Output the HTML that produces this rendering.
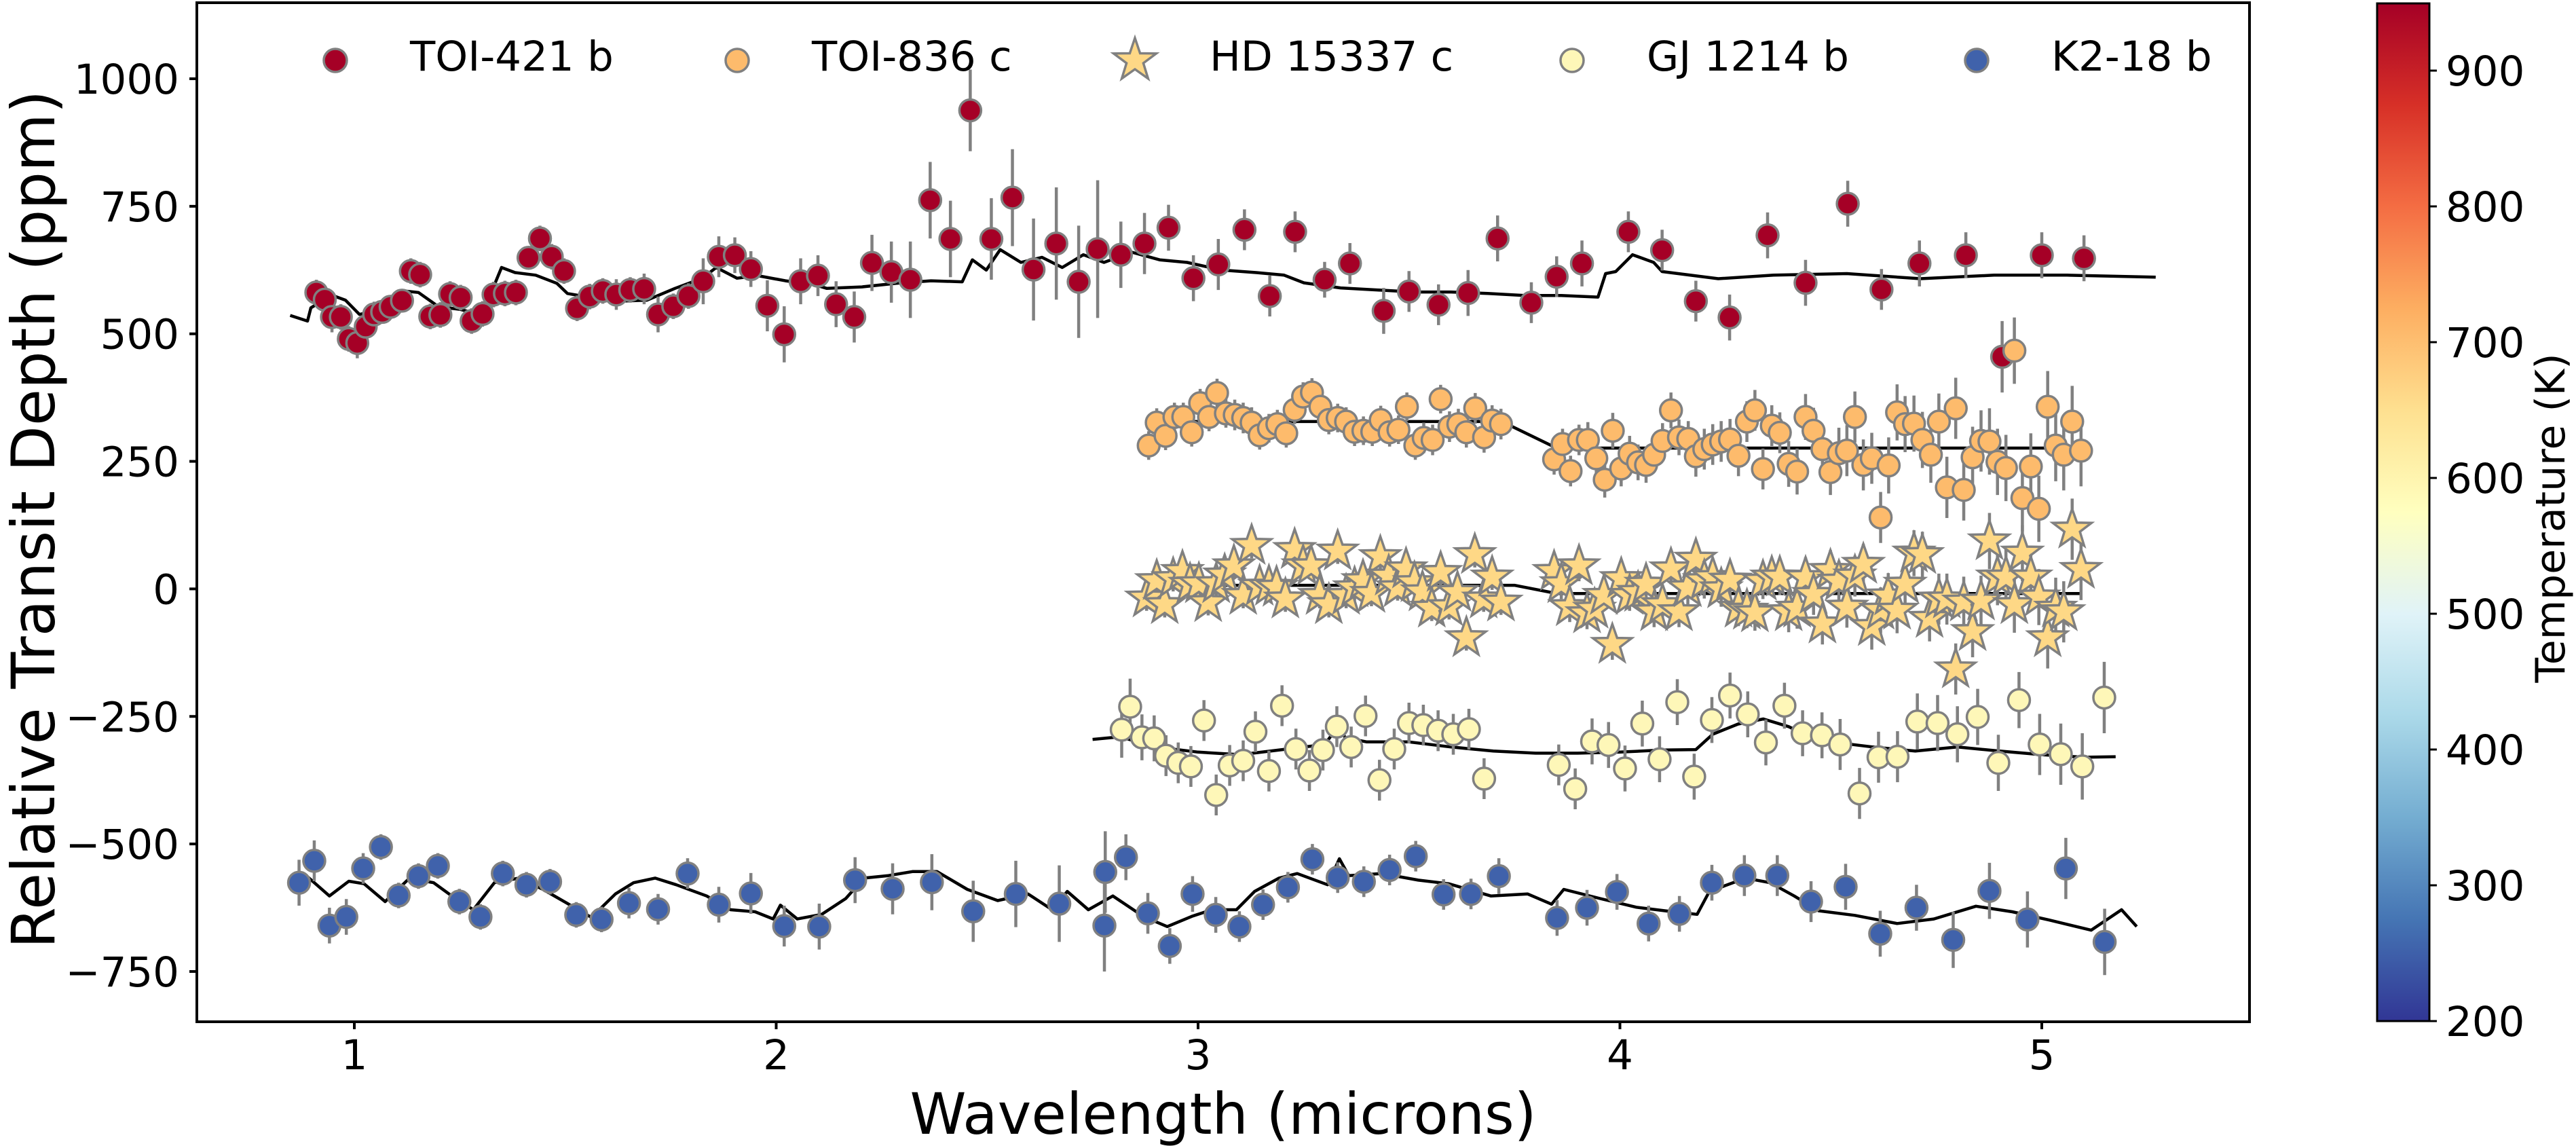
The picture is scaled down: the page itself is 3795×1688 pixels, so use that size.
<!DOCTYPE html>
<html>
<head>
<meta charset="utf-8">
<style>
  html,body{margin:0;padding:0;background:#fff;}
  svg{display:block;font-family:"DejaVu Sans","Liberation Sans",sans-serif;}
</style>
</head>
<body>
<svg id="chart" xmlns="http://www.w3.org/2000/svg" width="3795" height="1688" viewBox="0 0 3795 1688">
  <defs>
    <linearGradient id="cmap" x1="0" y1="1" x2="0" y2="0">
      <stop offset="0" stop-color="#313695"/>
      <stop offset="0.1" stop-color="#4575b4"/>
      <stop offset="0.2" stop-color="#74add1"/>
      <stop offset="0.3" stop-color="#abd9e9"/>
      <stop offset="0.4" stop-color="#e0f3f8"/>
      <stop offset="0.5" stop-color="#ffffbf"/>
      <stop offset="0.6" stop-color="#fee090"/>
      <stop offset="0.7" stop-color="#fdae61"/>
      <stop offset="0.8" stop-color="#f46d43"/>
      <stop offset="0.9" stop-color="#d73027"/>
      <stop offset="1" stop-color="#a50026"/>
    </linearGradient>
  </defs>
  <g id="models"></g>
  <g id="series"></g>
  <rect x="290" y="4" width="3024" height="1501" fill="none" stroke="#000" stroke-width="4"/>
  <g id="yticks"></g>
  <g id="xticks"></g>
  <text x="0" y="0" transform="translate(80,765) rotate(-90)" text-anchor="middle" font-size="88">Relative Transit Depth (ppm)</text>
  <text x="1802" y="1670" text-anchor="middle" font-size="84">Wavelength (microns)</text>
  <g id="legend"></g>
  <rect x="3502" y="5" width="77" height="1499" fill="url(#cmap)" stroke="#000" stroke-width="3"/>
  <g id="cticks"></g>
  <text x="0" y="0" transform="translate(3778,763) rotate(-90)" text-anchor="middle" font-size="60">Temperature (K)</text>
</svg>
<script>
// ---- data ----
const yTicks = [1000, 750, 500, 250, 0, -250, -500, -750];
const yTickLabels = ["1000", "750", "500", "250", "0", "\u2212250", "\u2212500", "\u2212750"];
const xTicks = [1, 2, 3, 4, 5];
const xTickLabels = ["1", "2", "3", "4", "5"];
const cbTicks = [200, 300, 400, 500, 600, 700, 800, 900];
const legendLabels = ["TOI-421 b", "TOI-836 c", "HD 15337 c", "GJ 1214 b", "K2-18 b"];

const toi421Wave = [0.91,0.93,0.947,0.968,0.987,1.007,1.027,1.047,1.066,1.086,1.113,1.134,1.156,1.18,1.204,1.227,1.252,1.278,1.304,1.33,1.357,1.383,1.413,1.44,1.468,1.497,1.528,1.558,1.589,1.621,1.654,1.687,1.72,1.756,1.792,1.827,1.864,1.902,1.94,1.979,2.019,2.058,2.099,2.142,2.185,2.227,2.273,2.318,2.365,2.413,2.46,2.51,2.56,2.61,2.664,2.717,2.762,2.817,2.873,2.93,2.989,3.048,3.11,3.17,3.23,3.30,3.36,3.44,3.50,3.57,3.64,3.71,3.79,3.85,3.91,4.02,4.1,4.18,4.26,4.35,4.44,4.54,4.62,4.71,4.82,4.906,5.0,5.1];
const toi421Depth = [581,567,533,533,490,482,514,538,543,553,565,623,616,534,537,578,571,525,539,577,579,581,649,687,651,623,550,573,584,577,586,588,538,554,574,603,651,654,627,555,499,603,614,558,533,639,621,606,762,686,938,686,767,626,677,602,666,655,677,708,609,636,704,574,700,606,638,545,583,557,580,687,561,612,638,700,664,564,532,693,600,755,587,638,654,455,654,648];
const toi421Err = [25,25,30,25,25,30,25,25,20,20,20,25,25,25,25,25,25,25,25,25,25,25,20,25,25,25,25,25,25,30,25,30,35,25,25,45,40,35,35,50,55,45,40,45,50,55,60,75,75,75,80,80,95,100,110,110,135,65,60,45,45,50,40,40,40,35,40,45,40,40,45,45,40,40,45,40,40,40,45,45,45,45,40,45,45,70,45,45];
const toi421ModelWave = [0.848,0.889,0.897,0.946,0.979,1.012,1.07,1.119,1.152,1.2,1.25,1.283,1.316,1.349,1.381,1.43,1.48,1.505,1.562,1.628,1.694,1.76,1.825,1.858,1.907,1.956,2.022,2.088,2.12,2.203,2.285,2.367,2.441,2.465,2.498,2.531,2.58,2.63,2.678,2.728,2.777,2.843,2.909,2.974,3.056,3.138,3.204,3.251,3.338,3.425,3.513,3.6,3.687,3.774,3.861,3.948,3.966,3.99,4.03,4.08,4.1,4.233,4.364,4.538,4.712,4.887,5.06,5.27];
const toi421ModelDepth = [536,525,551,576,566,538,548,584,581,553,548,541,564,630,620,615,599,579,571,564,566,589,609,630,609,614,604,597,589,592,599,604,602,645,625,665,640,650,630,655,640,660,645,640,625,620,615,600,590,586,582,582,579,575,575,572,618,622,655,640,622,608,615,618,608,615,615,611];

const toi836Wave = [2.883,2.902,2.923,2.944,2.965,2.985,3.005,3.026,3.045,3.066,3.087,3.107,3.127,3.146,3.168,3.188,3.209,3.229,3.249,3.27,3.29,3.31,3.331,3.351,3.371,3.392,3.413,3.433,3.454,3.475,3.495,3.515,3.535,3.556,3.575,3.596,3.617,3.636,3.657,3.678,3.697,3.718,3.844,3.864,3.883,3.903,3.924,3.944,3.964,3.983,4.003,4.023,4.043,4.062,4.081,4.101,4.121,4.14,4.162,4.18,4.2,4.22,4.24,4.261,4.281,4.301,4.32,4.339,4.36,4.379,4.4,4.42,4.44,4.459,4.48,4.499,4.519,4.538,4.557,4.577,4.597,4.618,4.637,4.657,4.676,4.697,4.717,4.737,4.756,4.775,4.796,4.815,4.836,4.856,4.876,4.895,4.915,4.935,4.954,4.974,4.993,5.014,5.033,5.052,5.072,5.093];
const toi836Depth = [281,326,300,337,337,307,364,337,384,344,341,335,326,301,315,323,305,351,377,385,357,331,335,328,308,310,308,331,307,312,357,281,296,292,372,318,323,307,354,297,330,323,254,284,231,292,292,256,214,310,236,265,248,243,263,290,350,297,294,260,274,283,289,293,261,328,350,235,320,306,245,230,337,310,274,229,266,271,337,243,256,140,242,346,323,324,292,263,328,199,354,194,258,290,289,249,237,467,178,240,157,357,281,263,328,271];
const toi836Err = [28,28,28,28,28,28,28,28,28,28,30,30,30,28,28,28,28,28,28,28,28,28,28,28,28,28,28,28,28,28,28,28,30,30,28,30,30,30,30,30,30,30,30,30,30,30,35,35,35,35,35,35,35,35,35,35,35,35,35,40,40,40,40,40,40,40,40,40,40,40,45,45,45,45,45,45,50,50,50,50,50,50,55,55,55,55,55,55,55,60,60,60,60,60,65,65,65,65,65,65,65,70,70,70,70,70];
const toi836ModelWave = [2.88,3.72,3.85,5.09];
const toi836ModelDepth = [328,328,276,276];

const hd15337Wave = [2.878,2.902,2.921,2.941,2.963,2.981,3.002,3.024,3.043,3.063,3.085,3.107,3.127,3.146,3.168,3.186,3.207,3.229,3.249,3.268,3.288,3.31,3.331,3.351,3.371,3.391,3.411,3.432,3.452,3.473,3.493,3.513,3.532,3.554,3.575,3.595,3.615,3.636,3.656,3.677,3.697,3.718,3.844,3.861,3.881,3.903,3.922,3.94,3.962,3.982,4.003,4.023,4.043,4.062,4.081,4.101,4.121,4.14,4.161,4.18,4.2,4.22,4.24,4.261,4.281,4.301,4.32,4.339,4.36,4.379,4.4,4.42,4.44,4.459,4.48,4.499,4.519,4.538,4.557,4.577,4.597,4.618,4.636,4.657,4.676,4.697,4.717,4.734,4.756,4.775,4.796,4.815,4.836,4.856,4.876,4.895,4.915,4.935,4.954,4.974,4.993,5.014,5.033,5.052,5.072,5.093];
const hd15337Depth = [-18,16,-31,20,34,9,10,-27,10,27,45,-13,85,5,5,3,-20,77,45,45,-13,-31,74,-13,2,16,-9,63,25,2,39,12,-6,-38,32,-35,-7,-96,67,-20,23,-26,34,10,-35,45,-49,-40,-13,-109,20,-13,-7,9,-45,-31,39,-45,2,58,16,22,0,17,-38,-42,-47,15,23,23,-45,-38,22,-11,-69,36,15,-36,25,48,-74,-42,-14,-42,9,70,67,-58,-20,-20,-157,-26,-84,-24,94,23,23,-31,70,23,-16,-96,-38,-45,117,38];
const hd15337Err = [25,25,25,25,25,25,25,25,25,25,25,25,25,25,25,25,25,25,25,25,25,25,25,25,25,25,25,25,25,25,25,25,25,25,25,25,25,25,25,25,25,25,30,30,30,30,30,30,30,30,30,30,30,30,30,30,30,30,35,35,35,35,35,35,35,35,35,35,35,35,40,40,40,40,40,40,40,40,40,40,45,45,45,45,45,45,45,45,50,50,50,50,50,50,55,55,55,55,55,55,55,60,60,60,60,60];
const hd15337ModelWave = [2.9,3.75,3.85,5.09];
const hd15337ModelDepth = [7,7,-9,-9];

const gj1214Wave = [2.819,2.839,2.867,2.896,2.924,2.953,2.983,3.014,3.043,3.075,3.107,3.136,3.168,3.199,3.232,3.264,3.296,3.329,3.363,3.397,3.43,3.465,3.5,3.534,3.569,3.605,3.642,3.678,3.855,3.894,3.934,3.973,4.012,4.053,4.094,4.136,4.176,4.218,4.261,4.303,4.346,4.39,4.433,4.479,4.522,4.568,4.613,4.658,4.705,4.753,4.8,4.848,4.897,4.946,4.995,5.045,5.096,5.148];
const gj1214Depth = [-276,-231,-291,-293,-327,-341,-348,-258,-404,-346,-337,-280,-357,-229,-314,-356,-316,-270,-310,-249,-375,-314,-263,-267,-278,-285,-275,-372,-345,-392,-299,-306,-352,-264,-334,-222,-368,-257,-209,-246,-301,-229,-283,-287,-305,-401,-330,-329,-260,-263,-285,-251,-341,-218,-305,-324,-348,-213];
const gj1214Err = [55,55,45,45,40,40,40,40,40,40,40,40,40,40,40,40,40,40,40,40,40,40,40,40,40,40,40,40,40,40,45,45,45,45,45,45,45,45,45,45,45,45,45,45,50,50,50,50,55,55,55,55,55,55,60,60,65,70];
const gj1214ModelWave = [2.75,2.815,2.9,3.0,3.1,3.2,3.3,3.33,3.35,3.4,3.5,3.6,3.7,3.8,3.9,4.0,4.1,4.18,4.22,4.28,4.34,4.4,4.45,4.5,4.6,4.7,4.8,4.9,5.0,5.1,5.175];
const gj1214ModelDepth = [-295,-290,-310,-320,-325,-315,-305,-272,-292,-300,-300,-310,-318,-322,-322,-320,-316,-315,-285,-265,-255,-270,-290,-300,-310,-318,-310,-318,-325,-330,-329];

const k218Wave = [0.869,0.905,0.941,0.981,1.021,1.063,1.105,1.152,1.198,1.249,1.299,1.352,1.408,1.464,1.526,1.586,1.651,1.72,1.79,1.864,1.94,2.019,2.102,2.187,2.276,2.369,2.467,2.568,2.671,2.778,2.78,2.829,2.881,2.933,2.987,3.042,3.098,3.154,3.213,3.271,3.331,3.393,3.454,3.516,3.582,3.647,3.713,3.851,3.922,3.993,4.068,4.141,4.218,4.295,4.373,4.453,4.535,4.617,4.703,4.79,4.876,4.966,5.057,5.149];
const k218Depth = [-576,-533,-660,-643,-548,-506,-601,-563,-543,-613,-643,-558,-580,-574,-639,-648,-616,-628,-558,-619,-597,-661,-662,-571,-588,-575,-632,-598,-617,-660,-555,-526,-636,-700,-598,-639,-662,-619,-585,-530,-566,-574,-551,-524,-599,-598,-563,-645,-625,-594,-656,-637,-576,-562,-562,-613,-584,-676,-625,-688,-592,-648,-548,-692];
const k218Err = [45,40,35,35,30,25,25,25,25,25,25,25,25,25,25,25,30,30,30,35,40,40,45,45,50,55,60,65,75,90,80,45,40,35,35,35,30,30,30,30,30,30,30,30,30,30,35,35,35,35,35,35,35,40,40,40,45,45,45,55,55,55,60,65];
const k218ModelWave = [0.85,0.886,0.941,0.987,1.023,1.073,1.131,1.188,1.231,1.282,1.332,1.39,1.447,1.504,1.562,1.619,1.662,1.713,1.763,1.835,1.892,1.95,1.993,2.01,2.05,2.108,2.165,2.208,2.266,2.324,2.381,2.453,2.525,2.597,2.654,2.69,2.74,2.798,2.87,2.927,2.985,3.033,3.091,3.134,3.192,3.235,3.307,3.335,3.357,3.436,3.522,3.594,3.694,3.781,3.838,3.867,3.953,4.039,4.126,4.183,4.212,4.298,4.356,4.413,4.471,4.557,4.657,4.744,4.844,4.93,5.017,5.117,5.189,5.225];
const k218ModelDepth = [-582,-562,-602,-573,-578,-613,-567,-576,-602,-629,-576,-567,-589,-616,-644,-598,-576,-567,-580,-602,-629,-633,-647,-620,-647,-638,-607,-567,-562,-554,-554,-589,-611,-598,-629,-593,-629,-602,-642,-662,-642,-629,-629,-593,-567,-558,-580,-529,-562,-558,-571,-578,-602,-598,-618,-589,-607,-624,-633,-638,-593,-567,-576,-602,-631,-640,-656,-647,-622,-633,-649,-669,-629,-662];

// ---- axis functions ----
const X0 = 522, XPX = 621.5;
const Y0 = 116, YPX = 0.7514;
function xs(w){ return X0 + (w - 1) * XPX; }
function ys(v){ return Y0 + (1000 - v) * YPX; }
function cs(t){ return 1504 - (t - 200) * 2; }

const NS = "http://www.w3.org/2000/svg";
function mk(tag, attrs, parent){
  const e = document.createElementNS(NS, tag);
  for (const k in attrs) e.setAttribute(k, attrs[k]);
  parent.appendChild(e);
  return e;
}
function starPath(cx, cy, R, r){
  let d = "";
  for (let i = 0; i < 10; i++){
    const ang = -Math.PI/2 + i * Math.PI/5;
    const rad = i % 2 === 0 ? R : r;
    d += (i === 0 ? "M" : "L") + (cx + rad*Math.cos(ang)).toFixed(1) + "," + (cy + rad*Math.sin(ang)).toFixed(1);
  }
  return d + "Z";
}

// ---- ticks ----
const yt = document.getElementById("yticks");
yTicks.forEach((v, i) => {
  const l = mk("line", {x1: 279, x2: 290, y1: ys(v), y2: ys(v), stroke: "#000", "stroke-width": 4}, yt);
  
  
  const t = mk("text", {x: 264, y: ys(v) + 22, "text-anchor": "end", "font-size": 61}, yt);
  
  
  t.textContent = yTickLabels[i];
});
const xt = document.getElementById("xticks");
xTicks.forEach((w, i) => {
  const l = mk("line", {x1: xs(w), x2: xs(w), y1: 1505, y2: 1516, stroke: "#000", "stroke-width": 4}, xt);
  
  
  const t = mk("text", {x: xs(w), y: 1575, "text-anchor": "middle", "font-size": 61}, xt);
  
  
  t.textContent = xTickLabels[i];
});
const ct = document.getElementById("cticks");
cbTicks.forEach(t0 => {
  const l = mk("line", {x1: 3579, x2: 3590, y1: cs(t0), y2: cs(t0), stroke: "#000", "stroke-width": 3}, ct);
  
  
  const t = mk("text", {x: 3603, y: cs(t0) + 22, "font-size": 61}, ct);
  
  
  t.textContent = String(t0);
});

// ---- models ----
const mg = document.getElementById("models");
function drawModel(wv, dp, name){
  const pts = wv.map((w, i) => xs(w).toFixed(1) + "," + ys(dp[i]).toFixed(1)).join(" ");
  const p = mk("polyline", {points: pts, fill: "none", stroke: "#000", "stroke-width": 4.5, "stroke-linejoin": "round"}, mg);
  
  
}
drawModel(toi421ModelWave, toi421ModelDepth, 'toi-421b-model');
drawModel(toi836ModelWave, toi836ModelDepth, 'toi-836c-model');
drawModel(hd15337ModelWave, hd15337ModelDepth, 'hd-15337c-model');
drawModel(gj1214ModelWave, gj1214ModelDepth, 'gj-1214b-model');
drawModel(k218ModelWave, k218ModelDepth, 'k2-18b-model');

// ---- series ----
const sg = document.getElementById("series");
function drawSeries(wv, dp, er, color, star, name){
  const g = mk("g", {}, sg);
  
  
  wv.forEach((w, i) => {
    const b = mk("line", {x1: xs(w), x2: xs(w), y1: ys(dp[i] + er[i]), y2: ys(dp[i] - er[i]), stroke: "#808080", "stroke-width": 4.5}, g);
    
    
  });
  wv.forEach((w, i) => {
    let m;
    if (star) m = mk("path", {d: starPath(xs(w), ys(dp[i]), 30, 12), fill: color, stroke: "#808080", "stroke-width": 3.5, "stroke-linejoin": "miter"}, g);
    else m = mk("circle", {cx: xs(w), cy: ys(dp[i]), r: 16, fill: color, stroke: "#808080", "stroke-width": 3.5}, g);
    
    
  });
}
const colors = ["#a50026", "#fdbb6c", "#fed886", "#fef7b8", "#4062ab"];
drawSeries(toi421Wave, toi421Depth, toi421Err, colors[0], false, 'toi-421b-series');
drawSeries(toi836Wave, toi836Depth, toi836Err, colors[1], false, 'toi-836c-series');
drawSeries(hd15337Wave, hd15337Depth, hd15337Err, colors[2], true, 'hd-15337c-series');
drawSeries(gj1214Wave, gj1214Depth, gj1214Err, colors[3], false, 'gj-1214b-series');
drawSeries(k218Wave, k218Depth, k218Err, colors[4], false, 'k2-18b-series');

// ---- legend ----
const lg = document.getElementById("legend");
const legendX = [494, 1086, 1672, 2316, 2912];
legendLabels.forEach((lab, i) => {
  const g = mk("g", {}, lg);
  
  
  let m;
  if (i === 2) m = mk("path", {d: starPath(legendX[i], 89, 33, 13), fill: colors[i], stroke: "#808080", "stroke-width": 3.5}, g);
  else m = mk("circle", {cx: legendX[i], cy: 89, r: 17, fill: colors[i], stroke: "#808080", "stroke-width": 3.5}, g);
  
  
  const t = mk("text", {x: legendX[i] + 110, y: 104, "font-size": 61}, g);
  
  
  t.textContent = lab;
});
</script>
</body>
</html>
